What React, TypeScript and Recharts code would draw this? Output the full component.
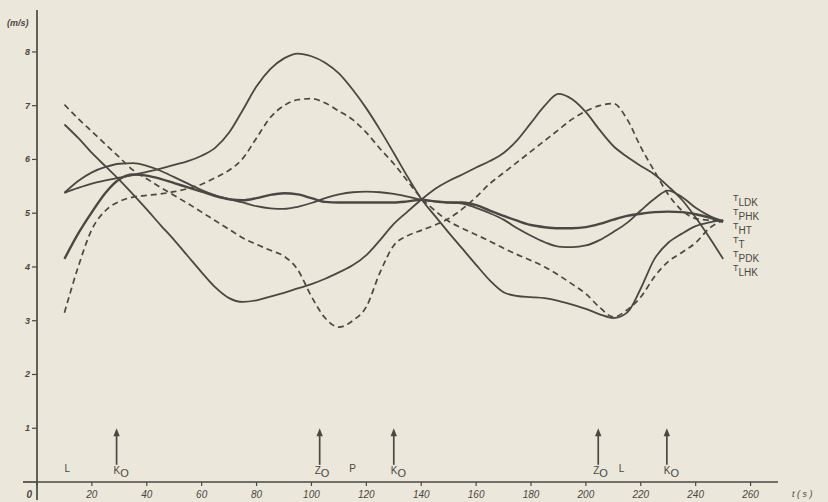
import React from 'react';
import { LineChart, Line, XAxis, YAxis, ReferenceLine, ReferenceDot } from 'recharts';

// time axis (s)
const tValues = [10, 15, 20, 25, 30, 35, 40, 45, 50, 55, 60, 65, 70, 75, 80, 85, 90, 95, 100, 105, 110, 115, 120, 125, 130, 135, 140, 145, 150, 155, 160, 165, 170, 175, 180, 185, 190, 195, 200, 205, 210, 215, 220, 225, 230, 235, 240, 245, 250];

// solid: falls to a 3.35 valley, peak 7.2 near t=190
const seriesA = [6.65, 6.4, 6.12, 5.87, 5.62, 5.35, 5.07, 4.78, 4.5, 4.2, 3.9, 3.62, 3.42, 3.35, 3.38, 3.45, 3.52, 3.6, 3.68, 3.78, 3.9, 4.03, 4.22, 4.5, 4.8, 5.03, 5.25, 5.45, 5.6, 5.72, 5.85, 5.97, 6.12, 6.36, 6.68, 7.0, 7.22, 7.12, 6.88, 6.55, 6.25, 6.05, 5.88, 5.72, 5.5, 5.25, 4.92, 4.55, 4.15];
// solid: big peak near 8 at t=95
const seriesB = [5.38, 5.47, 5.55, 5.61, 5.66, 5.71, 5.77, 5.83, 5.9, 5.97, 6.07, 6.22, 6.5, 6.92, 7.36, 7.68, 7.88, 7.97, 7.92, 7.8, 7.6, 7.3, 6.95, 6.55, 6.12, 5.68, 5.27, 4.95, 4.64, 4.34, 4.04, 3.75, 3.53, 3.46, 3.44, 3.42, 3.37, 3.3, 3.22, 3.12, 3.05, 3.15, 3.6, 4.15, 4.45, 4.62, 4.76, 4.83, 4.87];
// dashed: starts at 7, minimum 2.9 near t=110, peak 7.05 near t=210
const seriesC = [7.02, 6.76, 6.52, 6.28, 6.04, 5.8, 5.64, 5.48, 5.33, 5.18, 5.02, 4.86, 4.7, 4.54, 4.42, 4.31, 4.2, 3.95, 3.45, 3.05, 2.88, 3.0, 3.26, 3.9, 4.4, 4.58, 4.68, 4.78, 4.9, 5.08, 5.3, 5.55, 5.75, 5.95, 6.15, 6.35, 6.55, 6.75, 6.9, 7.0, 7.04, 6.75, 6.23, 5.78, 5.35, 5.05, 4.9, 4.87, 4.85];
// dashed: starts at 3.2, peak 7.15 near t=97, minimum 3.07 near t=210
const seriesD = [3.15, 4.0, 4.7, 5.05, 5.22, 5.3, 5.33, 5.36, 5.4, 5.46, 5.54, 5.66, 5.8, 6.02, 6.4, 6.78, 7.0, 7.11, 7.13, 7.05, 6.9, 6.74, 6.5, 6.2, 5.92, 5.6, 5.28, 5.05, 4.85, 4.72, 4.6, 4.48, 4.35, 4.23, 4.12, 4.0, 3.85, 3.68, 3.5, 3.25, 3.07, 3.2, 3.44, 3.82, 4.1, 4.27, 4.45, 4.72, 4.87];
// solid: hump 5.93 near t=35, then around 5.2, dip 4.37 near t=195
const seriesE = [5.38, 5.6, 5.76, 5.86, 5.92, 5.93, 5.88, 5.79, 5.67, 5.55, 5.43, 5.33, 5.26, 5.2, 5.13, 5.09, 5.08, 5.12, 5.19, 5.28, 5.35, 5.39, 5.4, 5.39, 5.36, 5.31, 5.25, 5.22, 5.2, 5.18, 5.1, 5.0, 4.88, 4.72, 4.58, 4.46, 4.38, 4.37, 4.4, 4.5, 4.65, 4.82, 5.05, 5.27, 5.42, 5.3, 5.1, 4.95, 4.85];
// solid (heavier): starts at 4.2, mostly near 5.2, flat 4.7-5.0 at the end
const seriesF = [4.15, 4.62, 5.02, 5.38, 5.63, 5.72, 5.7, 5.64, 5.56, 5.48, 5.4, 5.32, 5.26, 5.24, 5.28, 5.34, 5.37, 5.35, 5.28, 5.21, 5.2, 5.2, 5.2, 5.2, 5.2, 5.22, 5.25, 5.22, 5.2, 5.2, 5.15, 5.05, 4.95, 4.86, 4.78, 4.74, 4.72, 4.72, 4.74, 4.8, 4.88, 4.95, 4.99, 5.02, 5.03, 5.02, 4.98, 4.92, 4.84];

const seriesSubscripts = ['LDK', 'PHK', 'HT', 'T', 'PDK', 'LHK'];
const xTicks = [0, 20, 40, 60, 80, 100, 120, 140, 160, 180, 200, 220, 240, 260];
const yTicks = [1, 2, 3, 4, 5, 6, 7, 8];

// event arrows along the time axis
const arrowTimes = [29, 103, 130, 204.5, 229.5];
const arrowLetters = ['K', 'Z', 'K', 'Z', 'K'];
const letterTimes = [11, 115, 213];
const letterTexts = ['L', 'P', 'L'];

const data = tValues.map((t, i) => ({
  t,
  a: seriesA[i],
  b: seriesB[i],
  c: seriesC[i],
  d: seriesD[i],
  e: seriesE[i],
  f: seriesF[i],
}));

const INK = '#4a4843';
const PAPER = '#ebe7da';
const FONT = '"Liberation Sans", "DejaVu Sans", sans-serif';

const XTick = (props: any) => {
  const { x, y, payload } = props;
  const v = payload.value;
  if (v === 0) {
    const ay = y - 6;
    return (
      <g>
        <line x1={x - 14} y1={ay} x2={x} y2={ay} stroke={INK} strokeWidth={1.7} />
        <line x1={x} y1={ay} x2={x} y2={ay + 18} stroke={INK} strokeWidth={1.7} />
        <text x={x - 5} y={y + 10} textAnchor="end" fontFamily={FONT} fontStyle="italic" fontWeight="bold" fontSize={10} fill={INK}>0</text>
      </g>
    );
  }
  return (
    <text x={x} y={y + 10} textAnchor="middle" fontFamily={FONT} fontStyle="italic" fontSize={10} fill={INK}>{v}</text>
  );
};

const YTick = (props: any) => {
  const { x, y, payload } = props;
  return (
    <text x={x} y={y + 3} textAnchor="end" fontFamily={FONT} fontStyle="italic" fontWeight="bold" fontSize={9} fill={INK}>{payload.value}</text>
  );
};

const makeArrowShape = (letter: string) => (p: any) => {
  const { x1, y1, y2 } = p;
  const top = Math.min(y1, y2);
  const bottom = Math.max(y1, y2);
  const x = x1;
  return (
    <g>
      <line x1={x} y1={bottom} x2={x} y2={top + 6} stroke={INK} strokeWidth={1.7} />
      <path d={`M ${x} ${top} L ${x - 3.2} ${top + 8} L ${x + 3.2} ${top + 8} Z`} fill={INK} />
      <text x={letter === 'Z' ? x - 5 : x - 3} y={bottom + 9} fontFamily={FONT} fontSize={10} fill={INK}>
        {letter}
        <tspan dy={3} fontSize={11}>O</tspan>
      </text>
    </g>
  );
};

const makeLetterShape = (letter: string) => (p: any) => (
  <text x={p.cx} y={p.cy} textAnchor="middle" fontFamily={FONT} fontSize={10} fill={INK}>{letter}</text>
);

export default function App() {
  const lineCommon = { type: 'monotone' as const, dot: false, isAnimationActive: false, stroke: INK };
  return (
    <div style={{ position: 'absolute', left: 0, top: 0, width: 828, height: 502, background: PAPER }}>
      <LineChart width={828} height={502} data={data} margin={{ top: 10, right: 50, left: 7, bottom: 0 }}>
        <XAxis
          dataKey="t"
          type="number"
          domain={[0, 270]}
          ticks={xTicks}
          interval={0}
          height={20}
          tickSize={4}
          axisLine={{ stroke: INK, strokeWidth: 1.7 }}
          tickLine={{ stroke: INK, strokeWidth: 1.2 }}
          tick={<XTick />}
        />
        <YAxis
          type="number"
          domain={[0, 8.78]}
          ticks={yTicks}
          interval={0}
          width={30}
          tickSize={5}
          axisLine={{ stroke: INK, strokeWidth: 1.7 }}
          tickLine={{ stroke: INK, strokeWidth: 1.2 }}
          tick={<YTick />}
        />
        <Line dataKey="a" {...lineCommon} strokeWidth={1.8} />
        <Line dataKey="b" {...lineCommon} strokeWidth={1.8} />
        <Line dataKey="c" {...lineCommon} strokeWidth={1.7} strokeDasharray="6 4" />
        <Line dataKey="d" {...lineCommon} strokeWidth={1.7} strokeDasharray="6 4" />
        <Line dataKey="e" {...lineCommon} strokeWidth={1.8} />
        <Line dataKey="f" {...lineCommon} strokeWidth={2.4} />
        {arrowTimes.map((t, i) => (
          <ReferenceLine
            key={'arr' + i}
            segment={[{ x: t, y: 0.32 }, { x: t, y: 1.0 }]}
            ifOverflow="visible"
            shape={makeArrowShape(arrowLetters[i])}
          />
        ))}
        {letterTimes.map((t, i) => (
          <ReferenceDot
            key={'let' + i}
            x={t}
            y={0.19}
            r={0}
            ifOverflow="visible"
            shape={makeLetterShape(letterTexts[i])}
          />
        ))}
      </LineChart>
      <svg width={828} height={502} style={{ position: 'absolute', left: 0, top: 0, pointerEvents: 'none' }}>
        <text x={7} y={26} fontFamily={FONT} fontStyle="italic" fontWeight="bold" fontSize={9} fill={INK}>(m/s)</text>
        <text x={792} y={497} fontFamily={FONT} fontStyle="italic" fontSize={9} fill={INK}>t ( s )</text>
        {seriesSubscripts.map((s, i) => (
          <text key={s} x={733} y={201 + i * 14} fontFamily={FONT} fontSize={9} fill={INK}>
            T
            <tspan dy={5} fontSize={10}>{s}</tspan>
          </text>
        ))}
      </svg>
    </div>
  );
}
